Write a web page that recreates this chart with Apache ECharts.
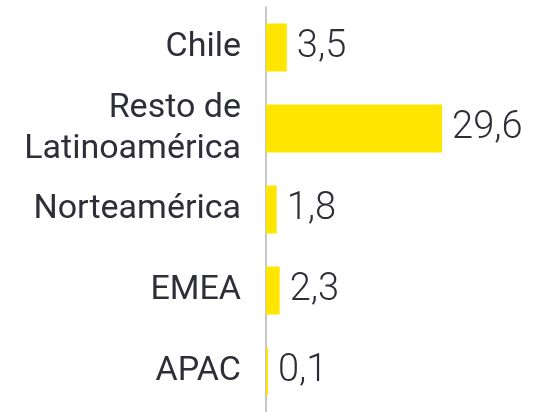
<!DOCTYPE html>
<html>
<head>
<meta charset="utf-8">
<script src="https://cdn.jsdelivr.net/npm/echarts@6/dist/echarts.min.js"></script>
<style>
    html, body { margin: 0; padding: 0; background: #fff; }
    #chart { width: 551px; height: 412px; }
</style>
</head>
<body>
<div id="chart"></div>
<script>
// regiones y valores
const categories = ['Chile', 'Resto de\nLatinoamérica', 'Norteamérica', 'EMEA', 'APAC'];
const values = [3.5, 29.6, 1.8, 2.3, 0.1];

const textColor = '#2e2e38';
const chart = echarts.init(document.getElementById('chart'));
chart.setOption({
    animation: false,
    grid: {
        left: 266,
        right: 47,
        top: 7,
        bottom: -6
    },
    xAxis: {
        type: 'value',
        min: 0,
        max: 40,
        show: false
    },
    yAxis: {
        type: 'category',
        inverse: true,
        data: categories,
        axisLine: {
            lineStyle: { color: '#b4b4b4', width: 1.5 }
        },
        axisTick: { show: false },
        axisLabel: {
            margin: 25,
            fontFamily: 'Roboto',
            fontSize: 34,
            lineHeight: 41,
            padding: [7, 0, 0, 0],
            color: textColor
        }
    },
    series: [{
        type: 'bar',
        data: values,
        barWidth: 48,
        barMinHeight: 2,
        itemStyle: { color: '#ffe600' },
        label: {
            show: true,
            position: 'right',
            distance: 10,
            fontFamily: 'Roboto',
            fontWeight: 300,
            fontSize: 38,
            padding: [6, 0, 0, 0],
            color: textColor,
            formatter: function (p) {
                return String(p.value).replace('.', ',');
            }
        }
    }]
});
</script>
</body>
</html>
